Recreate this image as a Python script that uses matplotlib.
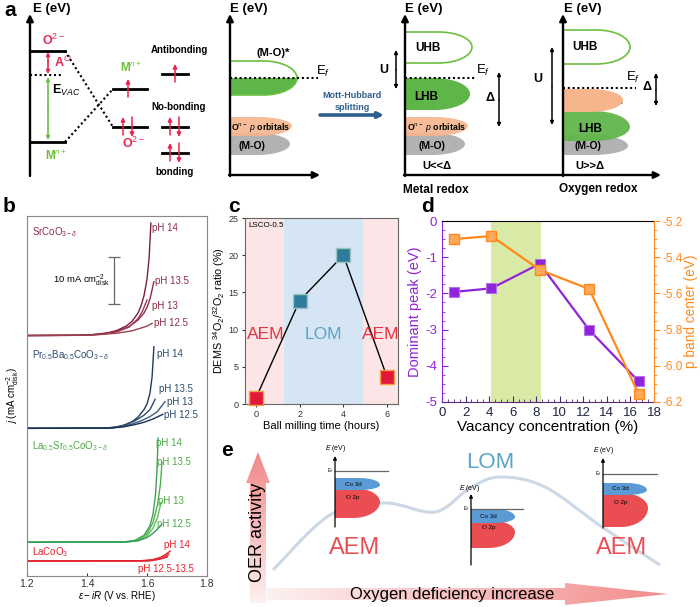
import numpy as np
import matplotlib
matplotlib.use("Agg")
import matplotlib.pyplot as plt
from matplotlib.path import Path
from matplotlib.patches import PathPatch, Rectangle, Polygon
from matplotlib.ticker import MultipleLocator

plt.rcParams["font.family"] = ["Liberation Sans", "DejaVu Sans"]
plt.rcParams["mathtext.fontset"] = "custom"
plt.rcParams["mathtext.rm"] = "Liberation Sans"
plt.rcParams["mathtext.it"] = "Liberation Sans:italic"
plt.rcParams["mathtext.bf"] = "Liberation Sans:bold"
plt.rcParams["axes.unicode_minus"] = False

# ---------------- data: panel b (LSV curves, current above each baseline) ----------------
b_materials = ["SrCoO$_{3-\\delta}$", "Pr$_{0.5}$Ba$_{0.5}$CoO$_{3-\\delta}$",
               "La$_{0.5}$Sr$_{0.5}$CoO$_{3-\\delta}$", "LaCoO$_3$"]
b_baselines = [51.3, 31.5, 7.2, 3.2]
b_ph_labels = ["pH 14", "pH 13.5", "pH 13", "pH 12.5"]

sr_volt = [[1.20, 1.35, 1.42, 1.47, 1.50, 1.53, 1.55, 1.57, 1.58, 1.59, 1.60, 1.607, 1.613],
           [1.20, 1.38, 1.45, 1.50, 1.54, 1.57, 1.59, 1.60, 1.61, 1.623],
           [1.20, 1.38, 1.45, 1.50, 1.54, 1.57, 1.585, 1.60],
           [1.20, 1.42, 1.50, 1.55, 1.58, 1.60, 1.617]]
sr_curr = [[0.0, 0.05, 0.2, 0.6, 1.1, 2.0, 3.0, 4.8, 6.3, 8.5, 12.0, 16.5, 24.0],
           [0.0, 0.05, 0.3, 0.9, 1.9, 3.3, 4.8, 6.0, 7.8, 11.5],
           [0.0, 0.05, 0.3, 0.8, 1.8, 3.6, 5.2, 7.6],
           [0.0, 0.1, 0.5, 1.0, 1.6, 2.0, 2.6]]

pr_volt = [[1.20, 1.45, 1.49, 1.52, 1.55, 1.57, 1.59, 1.60, 1.61, 1.617, 1.623],
           [1.20, 1.46, 1.50, 1.53, 1.56, 1.59, 1.61, 1.627],
           [1.20, 1.47, 1.51, 1.55, 1.58, 1.61, 1.635, 1.66],
           [1.20, 1.48, 1.52, 1.56, 1.59, 1.62, 1.653]]
pr_curr = [[0.0, 0.05, 0.2, 0.6, 1.4, 2.4, 4.0, 5.2, 7.5, 11.0, 17.4],
           [0.0, 0.05, 0.3, 0.8, 1.6, 2.8, 4.0, 6.2],
           [0.0, 0.05, 0.3, 0.9, 1.6, 2.5, 3.6, 5.7],
           [0.0, 0.05, 0.3, 0.8, 1.3, 2.0, 3.0]]

lsco_volt = [[1.20, 1.52, 1.56, 1.59, 1.61, 1.62, 1.628, 1.633, 1.637],
             [1.20, 1.53, 1.57, 1.60, 1.62, 1.635, 1.645, 1.65],
             [1.20, 1.53, 1.57, 1.60, 1.62, 1.635, 1.647],
             [1.20, 1.53, 1.57, 1.60, 1.62, 1.635, 1.65]]
lsco_curr = [[0.0, 0.05, 0.4, 1.5, 3.5, 6.0, 10.0, 15.0, 22.2],
             [0.0, 0.05, 0.5, 1.8, 4.2, 8.0, 12.5, 17.1],
             [0.0, 0.05, 0.4, 1.4, 3.0, 5.3, 8.5],
             [0.0, 0.05, 0.3, 1.0, 1.9, 2.8, 3.9]]

la_volt = [[1.20, 1.58, 1.62, 1.645, 1.66, 1.677],
           [1.20, 1.60, 1.63, 1.655, 1.673],
           [1.20, 1.60, 1.635, 1.655, 1.67],
           [1.20, 1.61, 1.64, 1.66, 1.668]]
la_curr = [[0.0, 0.05, 0.3, 0.8, 1.3, 2.1],
           [0.0, 0.05, 0.4, 0.9, 1.5],
           [0.0, 0.05, 0.4, 0.8, 1.2],
           [0.0, 0.05, 0.35, 0.7, 0.9]]

b_xticks = [1.2, 1.4, 1.6, 1.8]
b_scalebar_ma = 10

# ---------------- data: panel c ----------------
c_time = [0, 2, 4, 6]
c_ratio = [0.8, 13.9, 20.0, 3.6]
c_mech = ["AEM", "LOM", "LOM", "AEM"]
c_region_edges = [-0.5, 1.3, 4.9, 6.5]
c_region_names = ["AEM", "LOM", "AEM"]

# ---------------- data: panel d ----------------
d_vacancy = [1.0, 4.2, 8.3, 12.5, 16.7]
d_dominant_peak = [-1.96, -1.86, -1.18, -3.01, -4.43]
d_p_band_center = [-5.300, -5.283, -5.470, -5.576, -6.156]
d_band = [4.2, 8.4]

# ---------------- panel e schematic curve ----------------
e_curve_x = [273, 330, 385, 435, 470, 500, 545, 602, 660]
e_curve_y = [570, 515, 503, 512, 488, 477, 487, 527, 565]

W, H = 700, 607
fig = plt.figure(figsize=(7.0, 6.07), dpi=100)


def rect(x0, y0, x1, y1):
    return [x0 / W, 1 - y1 / H, (x1 - x0) / W, (y1 - y0) / H]


ax0 = fig.add_axes([0, 0, 1, 1])
ax0.set_xlim(0, W)
ax0.set_ylim(H, 0)
ax0.set_autoscale_on(False)
ax0.axis("off")

RED = "#E8264F"
GRN = "#6CBF3F"
GFILL = "#5EB548"
ORNG = "#F6B58C"
GRAY = "#B2B2B2"
K = 0.5523


def arrow(x0, y0, x1, y1, style="-|>", color="k", lw=1.2, ms=8, z=5):
    ax0.annotate("", xy=(x1, y1), xytext=(x0, y0),
                 arrowprops=dict(arrowstyle=style, color=color, lw=lw,
                                 mutation_scale=ms, shrinkA=0, shrinkB=0),
                 zorder=z)


def txt(x, y, s, size=8, color="k", weight="bold", ha="center", va="center", **kw):
    ax0.text(x, y, s, fontsize=size, color=color, fontweight=weight,
             ha=ha, va=va, **kw)


def dshape(x0, x1, yt, ym, yb, frac=0.45):
    xa = x0 + frac * (x1 - x0)
    verts = [(x0, yt), (xa, yt),
             (xa + K * (x1 - xa), yt), (x1, ym - K * (ym - yt)), (x1, ym),
             (x1, ym + K * (yb - ym)), (xa + K * (x1 - xa), yb), (xa, yb),
             (x0, yb), (x0, yt)]
    codes = [Path.MOVETO, Path.LINETO, Path.CURVE4, Path.CURVE4, Path.CURVE4,
             Path.CURVE4, Path.CURVE4, Path.CURVE4, Path.LINETO, Path.CLOSEPOLY]
    return Path(verts, codes)


def band(x0, x1, yt, ym, yb, fc, alpha=1.0, z=2, ec="none", lw=0, frac=0.45):
    p = PathPatch(dshape(x0, x1, yt, ym, yb, frac), facecolor=fc, edgecolor=ec,
                  lw=lw, alpha=alpha, zorder=z)
    ax0.add_patch(p)
    return p


def dotted(x0, y0, x1, y1, lw=1.5):
    ax0.plot([x0, x1], [y0, y1], color="k", lw=lw, ls=(0, (1, 1.3)), zorder=4)


def spin(x, lev, up=True):
    if up:
        arrow(x, lev + 8, x, lev - 10, color=RED, lw=1.1, ms=6)
    else:
        arrow(x, lev - 10, x, lev + 10, color=RED, lw=1.1, ms=6)


# =================== panel a ===================
txt(10, 11, "a", size=15)
# a1: orbital diagram
arrow(30, 176, 30, 14, lw=1.7, ms=10)
txt(52, 9, "E (eV)", size=9.5)
ax0.plot([30, 65], [51, 51], color="k", lw=2)
dotted(30, 75, 61, 75)
ax0.plot([30, 65], [142, 142], color="k", lw=2)
arrow(48, 62, 48, 52, color=RED, lw=1.2, ms=5)
arrow(48, 62, 48, 74, color=RED, lw=1.2, ms=5)
arrow(48, 105, 48, 77, color=GRN, lw=1.2, ms=5)
arrow(48, 105, 48, 140, color=GRN, lw=1.2, ms=5)
txt(53, 40, "O$^{2-}$", size=9, color=RED)
txt(63, 62, "A$^{O}$", size=9, color=RED)
txt(66, 90, "E$_{VAC}$", size=9)
txt(56, 156, "M$^{n+}$", size=8.5, color=GRN)
dotted(65, 51, 113, 127)
dotted(65, 142, 113, 89)
ax0.plot([113, 147], [89, 89], color="k", lw=2)
ax0.plot([113, 147], [127, 127], color="k", lw=2)
spin(128, 89, True)
spin(123, 127, True)
spin(132, 127, False)
txt(131, 68, "M$^{n+}$", size=8.5, color=GRN)
txt(133, 143, "O$^{2-}$", size=9, color=RED)
txt(179, 50, "Antibonding", size=7)
ax0.plot([162, 188], [74, 74], color="k", lw=2)
spin(175, 74, True)
txt(179, 107, "No-bonding", size=7)
ax0.plot([162, 188], [127, 127], color="k", lw=2)
spin(170, 127, True)
spin(179, 127, False)
ax0.plot([162, 188], [153, 153], color="k", lw=2)
spin(170, 153, True)
spin(179, 153, False)
txt(175, 172, "bonding", size=7)

# a2: (M-O)* band
arrow(230, 176, 230, 14, lw=1.7, ms=10)
arrow(229, 175, 320, 175, lw=1.7, ms=10)
txt(249, 9, "E (eV)", size=9.5)
band(230, 290, 133, 144, 155, GRAY, z=2)
band(230, 292, 117, 126, 136, ORNG, alpha=0.9, z=3)
txt(261, 127, "O$^{n-}$ $p$ orbitals", size=6.3)
txt(252, 146, "(M-O)", size=7.5)
gpath = dshape(230, 297, 61, 78, 95, frac=0.5)
gfill = PathPatch(gpath, facecolor=GFILL, edgecolor="none", zorder=2)
ax0.add_patch(gfill)
gfill.set_clip_path(Rectangle((225, 78), 90, 20, transform=ax0.transData))
ax0.add_patch(PathPatch(gpath, facecolor="none", edgecolor=GRN, lw=1.2, zorder=3))
dotted(230, 78, 318, 78)
txt(323, 71, "E$_f$", size=9.5, weight="normal")
txt(273, 53, "(M-O)*", size=8)
txt(352, 96, "Mott-Hubbard", size=6.5, color="#2F5F8F")
txt(352, 107, "splitting", size=6.5, color="#2F5F8F")
arrow(320, 115, 384, 115, color="#2F5F8F", lw=2.6, ms=8)

# a3: metal redox
arrow(405, 176, 405, 14, lw=1.7, ms=10)
arrow(404, 175, 661, 175, lw=1.7, ms=10)
txt(424, 9, "E (eV)", size=9.5)
band(405, 472, 32, 47, 63, "none", ec=GRN, lw=1.2, z=3, frac=0.5)
txt(428, 48, "UHB", size=8.5)
arrow(396, 70, 396, 50, lw=1.1, ms=5)
arrow(396, 70, 396, 89, lw=1.1, ms=5)
txt(384, 70, "U", size=9)
dotted(405, 78, 476, 78)
txt(483, 70, "E$_f$", size=9.5, weight="normal")
band(405, 470, 78, 94, 110, GFILL, z=2)
txt(426, 97, "LHB", size=8.5)
band(405, 465, 133, 144, 155, GRAY, z=2)
band(405, 468, 117, 126, 136, ORNG, alpha=0.9, z=3)
txt(437, 127, "O$^{n-}$ $p$ orbitals", size=6.3)
txt(432, 146, "(M-O)", size=7.5)
txt(437, 166, "U<<Δ", size=8)
arrow(499, 100, 499, 72, lw=1.1, ms=5)
arrow(499, 100, 499, 127, lw=1.1, ms=5)
txt(490, 98, "Δ", size=9)
txt(436, 190, "Metal redox", size=8.5)

# a4: oxygen redox
arrow(563, 176, 563, 14, lw=1.7, ms=10)
txt(583, 9, "E (eV)", size=9.5)
band(563, 630, 30, 47, 64, "none", ec=GRN, lw=1.2, z=3, frac=0.5)
txt(585, 47, "UHB", size=8.5)
arrow(552, 86, 552, 47, lw=1.1, ms=5)
arrow(552, 86, 552, 125, lw=1.1, ms=5)
txt(538, 79, "U", size=9)
dotted(563, 88, 636, 88)
txt(633, 77, "E$_f$", size=9.5, weight="normal")
arrow(656, 90, 656, 73, lw=1.1, ms=5)
arrow(656, 90, 656, 106, lw=1.1, ms=5)
txt(647, 87, "Δ", size=9)
band(563, 628, 135, 146, 155, GRAY, z=2)
band(563, 630, 111, 127, 141, GFILL, alpha=0.93, z=3)
band(563, 623, 89, 100, 112, ORNG, z=4)
txt(595, 102, "O$^{n-}$ $p$ orbitals", size=6.3)
txt(590, 129, "LHB", size=8.5)
txt(588, 146, "(M-O)", size=7.5)
txt(590, 166, "U>>Δ", size=8)
txt(598, 189, "Oxygen redox", size=8.5)

# panel letters for b-e
txt(9, 206, "b", size=15)
txt(234, 206, "c", size=15)
txt(428, 206, "d", size=15)
txt(227, 451, "e", size=15)

# =================== panel e ===================
# gradient arrows
hpoly = Polygon([(267, 588), (565, 588), (565, 583), (668, 594), (565, 605),
                 (565, 600), (267, 600)], closed=True, transform=ax0.transData)
hgrad = np.zeros((2, 256, 4))
t = np.linspace(0, 1, 256)
for i, (a, b) in enumerate([(253, 242), (241, 140), (241, 140)]):
    hgrad[:, :, i] = (a + (b - a) * t) / 255.0
hgrad[:, :, 3] = 1.0
im = ax0.imshow(hgrad, extent=(267, 668, 605, 583), aspect="auto", zorder=1)
im.set_clip_path(hpoly)
txt(452, 594, "Oxygen deficiency increase", size=12, weight="normal", zorder=3)

vpoly = Polygon([(250, 603), (250, 483), (246, 483), (258, 452), (270, 483),
                 (266, 483), (266, 603)], closed=True, transform=ax0.transData)
vgrad = np.zeros((256, 2, 4))
for i, (a, b) in enumerate([(241, 253), (135, 242), (135, 242)]):
    vgrad[:, :, i] = ((a + (b - a) * t) / 255.0)[:, None]
vgrad[:, :, 3] = 1.0
im2 = ax0.imshow(vgrad, extent=(246, 270, 605, 452), aspect="auto", zorder=1)
im2.set_clip_path(vpoly)
txt(258, 532, "OER activity", size=13, weight="normal", rotation=90, zorder=3)

# schematic activity curve (Catmull-Rom -> Bezier)
pts = np.column_stack([e_curve_x, e_curve_y]).astype(float)
ext = np.vstack([pts[0], pts, pts[-1]])
verts = [tuple(pts[0])]
codes = [Path.MOVETO]
for i in range(1, len(ext) - 2):
    p0, p1, p2, p3 = ext[i - 1], ext[i], ext[i + 1], ext[i + 2]
    c1 = p1 + (p2 - p0) / 6.0
    c2 = p2 - (p3 - p1) / 6.0
    verts += [tuple(c1), tuple(c2), tuple(p2)]
    codes += [Path.CURVE4] * 3
ax0.add_patch(PathPatch(Path(verts, codes), facecolor="none",
                        edgecolor="#CCD8E6", lw=2.2, zorder=1))

BLUE = "#5B9BD5"
ERED = "#EA4D52"


def mini(xa, ybot, ytop, efy, efx1, co, o, ex, ey):
    band(xa, o[0], o[1], o[2], o[3], ERED, z=2, frac=0.4)
    band(xa, co[0], co[1], co[2], co[3], BLUE, z=3, frac=0.55)
    arrow(xa, ybot, xa, ytop, lw=0.9, ms=5)
    ax0.plot([xa, efx1], [efy, efy], color="#666666", lw=0.9, zorder=4)
    txt(ex, ey, "$E$ (eV)", size=5, weight="normal")
    txt(xa - 5, efy, "E$_f$", size=3.5, weight="normal")
    txt(xa + (co[0] - xa) * 0.4, (co[1] + co[3]) / 2, "Co 3d", size=4.5,
        weight="normal", zorder=6)
    txt(xa + (o[0] - xa) * 0.4, (o[2] + o[1]) / 2 + 2, "O 2p", size=4.5,
        weight="normal", zorder=6)


mini(335, 527, 456, 471, 388, (380, 478, 485, 490), (380, 488, 502, 518), 336, 449)
mini(471, 565, 494, 509, 523, (515, 509, 517, 523), (515, 520, 532, 548), 470, 488)
mini(603, 528, 458, 474, 657, (647, 483, 490, 495), (648, 493, 508, 527), 604, 451)
txt(355, 548, "AEM", size=17, color=ERED, weight="normal")
txt(490, 463, "LOM", size=16, color="#5BA3C9", weight="normal")
txt(622, 548, "AEM", size=17, color=ERED, weight="normal")

ax0.set_xlim(0, W)
ax0.set_ylim(H, 0)

# =================== panel b ===================
axb = fig.add_axes(rect(27, 216, 207, 576))
b_volt = [sr_volt, pr_volt, lsco_volt, la_volt]
b_curr = [sr_curr, pr_curr, lsco_curr, la_curr]
b_colors = [["#7A1F3D", "#8E2C45", "#A03550", "#9A4050"],
            ["#1F3A5F", "#2B4A70", "#3A5A80", "#1A2F50"],
            ["#3FA34D", "#4DB04A", "#5BBF55", "#2E9A60"],
            ["#E8202A", "#EE3333", "#F04848", "#E02030"]]
b_txtcol = ["#8E2C45", "#2B4A70", "#4DAA46", "#E8202A"]
for m in range(4):
    for k in range(4):
        v = np.array(b_volt[m][k])
        j = np.array(b_curr[m][k]) + b_baselines[m]
        axb.plot(v, j, color=b_colors[m][k], lw=1.0)
# labels
lab_pos = [(73.4, [(1.618, 74.3), (1.627, 63.0), (1.617, 57.7), (1.623, 54.0)]),
           (47.2, [(1.633, 47.4), (1.640, 40.0), (1.668, 37.2), (1.657, 34.3)]),
           (27.7, [(1.630, 28.3), (1.632, 24.3), (1.638, 16.0), (1.632, 11.0)])]
for m in range(3):
    axb.text(1.218, lab_pos[m][0], b_materials[m], color=b_txtcol[m], fontsize=7,
             ha="left", va="center")
    for k in range(4):
        x, y = lab_pos[m][1][k]
        axb.text(x, y, b_ph_labels[k], color=b_txtcol[m], fontsize=7,
                 ha="left", va="center")
axb.text(1.218, 5.1, b_materials[3], color=b_txtcol[3], fontsize=7, ha="left",
         va="center")
axb.text(1.657, 6.6, "pH 14", color=b_txtcol[3], fontsize=7, ha="left", va="center")
axb.text(1.57, 1.6, "pH 12.5-13.5", color=b_txtcol[3], fontsize=7, ha="left",
         va="center")
axb.errorbar([1.49], [63.1], yerr=[b_scalebar_ma / 2], color="#666666", capsize=4,
             lw=0.9, capthick=0.9)
axb.text(1.477, 63.1, "10 mA cm$^{-2}_{\\rm disk}$", fontsize=6.8, ha="right",
         va="center")
axb.set_xlim(1.2, 1.8)
axb.set_ylim(0, 76.8)
axb.set_xticks(b_xticks)
axb.set_xticklabels([f"{x:.1f}" for x in b_xticks])
axb.set_yticks([])
axb.tick_params(axis="x", labelsize=7.5, direction="in", length=2.5, pad=2,
                colors="#333333")
for s in axb.spines.values():
    s.set_color("#888888")
    s.set_linewidth(0.8)
axb.set_xlabel("$\\varepsilon - iR$ (V vs. RHE)", fontsize=7, labelpad=0)
axb.set_ylabel("$j$ (mA cm$^{-2}_{\\rm disk}$)", fontsize=7, labelpad=4)

# =================== panel c ===================
axc = fig.add_axes(rect(245, 218, 398, 404))
reg_colors = {"AEM": "#FBE5E6", "LOM": "#D5E5F3"}
reg_txtcol = {"AEM": "#E8323F", "LOM": "#5BA3C9"}
for i, name in enumerate(c_region_names):
    a, b = c_region_edges[i], c_region_edges[i + 1]
    axc.axvspan(a, b, color=reg_colors[name], zorder=0, lw=0)
    axc.text((a + b) / 2 + (0.05 if i == 0 else 0.0), 9.3, name,
             color=reg_txtcol[name], fontsize=12.5, ha="center", va="center")
axc.plot(c_time, c_ratio, color="k", lw=1.0, zorder=2)
mcol = {"AEM": ("#E3173A", "#F2A040"), "LOM": ("#2E7B9C", "#9CC5C0")}
for tt, rr, mm in zip(c_time, c_ratio, c_mech):
    axc.plot(tt, rr, marker="s", ms=10, mfc=mcol[mm][0], mec=mcol[mm][1], mew=1.0,
             zorder=3, clip_on=False)
axc.set_xlim(-0.5, 6.5)
axc.set_ylim(0, 25)
axc.set_xticks(c_time)
axc.set_yticks([0, 5, 10, 15, 20, 25])
axc.tick_params(labelsize=6.5, direction="out", length=2.5, pad=2, colors="#333333")
for s in axc.spines.values():
    s.set_color("#666666")
    s.set_linewidth(0.8)
axc.text(-0.35, 24.0, "LSCO-0.5", fontsize=5.8, ha="left", va="center")
axc.set_xlabel("Ball milling time (hours)", fontsize=8, labelpad=1.5)
axc.set_ylabel("DEMS $^{34}$O$_2$/$^{32}$O$_2$ ratio (%)", fontsize=7.8, labelpad=1.5)

# =================== panel d ===================
PUR = "#9124D9"
ORG = "#FF8A1A"
axd = fig.add_axes(rect(442, 221, 654, 402))
axd.axvspan(d_band[0], d_band[1], color="#D9EAA6", zorder=0, lw=0)
axd.plot(d_vacancy, d_dominant_peak, color=PUR, lw=1.6, marker="s", ms=7.5,
         mfc=PUR, mec="#B070E8", mew=0.8, zorder=3)
axd.set_xlim(0, 18)
axd.set_ylim(-5, 0)
axd.xaxis.set_major_locator(MultipleLocator(2))
axd.xaxis.set_minor_locator(MultipleLocator(0.5))
axd.yaxis.set_major_locator(MultipleLocator(1))
axd.yaxis.set_minor_locator(MultipleLocator(0.25))
axd.tick_params(axis="y", which="both", direction="in", colors=PUR, labelsize=9.5)
axd.tick_params(axis="x", which="both", direction="in", colors="#4A2A6A",
                labelcolor="#1E2540", labelsize=9.5)
axd.tick_params(which="major", length=4)
axd.tick_params(which="minor", length=2)
axd.spines["left"].set_color(PUR)
axd.spines["bottom"].set_color("#5A2A7A")
axd.spines["top"].set_color("k")
axd.spines["right"].set_visible(False)
axd.set_ylabel("Dominant peak (eV)", color=PUR, fontsize=10.5, labelpad=2)
axd.set_xlabel("Vacancy concentration (%)", fontsize=11, labelpad=1)

axd2 = axd.twinx()
axd2.plot(d_vacancy, d_p_band_center, color=ORG, lw=1.6, marker="s", ms=7.5,
          mfc="#FFA85A", mec=ORG, mew=1.0, zorder=3)
axd2.set_ylim(-6.2, -5.2)
axd2.yaxis.set_major_locator(MultipleLocator(0.2))
axd2.yaxis.set_minor_locator(MultipleLocator(0.05))
axd2.tick_params(axis="y", which="both", direction="out", colors=ORG, labelsize=8.5,
                 pad=2)
axd2.tick_params(which="major", length=4)
axd2.tick_params(which="minor", length=2)
axd2.set_yticklabels([f"{v:.1f}" for v in axd2.get_yticks()])
for sname in ["left", "top", "bottom"]:
    axd2.spines[sname].set_visible(False)
axd2.spines["right"].set_color(ORG)
axd2.set_ylabel("p band center (eV)", color=ORG, fontsize=9.8, labelpad=1)

fig.savefig("out.png", dpi=100)
